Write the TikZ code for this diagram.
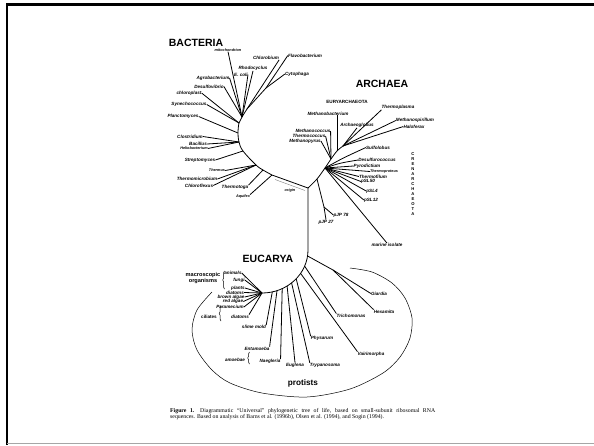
\documentclass[tikz,border=0pt]{standalone}
\usepackage{fontspec}
\setmainfont{Liberation Sans}
\newfontfamily\capfont{Liberation Serif}
\usetikzlibrary{decorations.pathreplacing}
\begin{document}
\begin{tikzpicture}[x=1pt,y=-1pt,
  br/.style={line width=0.8pt},
  lab/.style={font=\fontsize{4.6}{5}\selectfont\bfseries\itshape, inner sep=0pt},
  slab/.style={font=\fontsize{3.8}{4.5}\selectfont\bfseries\itshape, inner sep=0pt},
  plab/.style={font=\fontsize{4.6}{5}\selectfont\bfseries, inner sep=0pt},
  dom/.style={font=\fontsize{10.5}{12}\selectfont\bfseries, inner sep=0pt},
  capn/.style={font=\fontsize{5.8}{6.5}\selectfont\capfont, inner sep=0pt},
  brc/.style={decorate, decoration={brace, amplitude=1.8pt}, line width=0.5pt}]
\useasboundingbox (0,0) rectangle (594,445);
% frame
\draw[line width=2.3pt] (7.1,445) -- (7.1,4.6) -- (594,4.6);
\draw[gray!70, line width=1pt] (7,443) -- (594,443);

% ---------------- BACTERIA ----------------
\node[dom] (bact) at (196,43) {BACTERIA};
\node[slab] (mito) at (228,50) {mitochondrion};
\node[lab] (chlorob) at (266,58) {Chlorobium};
\node[lab] (flavo) at (305,55.5) {Flavobacterium};
\node[lab] (cyto) at (297,74) {Cytophaga};
\node[lab] (rhodo) at (253,68.5) {Rhodocyclus};
\node[lab] (ecoli) at (241,74.5) {E. coli};
\node[lab] (agro) at (213,78) {Agrobacterium};
\node[lab] (desul) at (209,86.5) {Desulfovibrio};
\node[lab] (chlp) at (189,93) {chloroplast};
\node[lab] (syn) at (189,104.5) {Synechococcus};
\node[lab] (plan) at (183,116.5) {Planctomyces};
\node[lab] (clos) at (190,136.5) {Clostridium};
\node[lab] (bac) at (198,144) {Bacillus};
\node[slab] (helio) at (194,148.5) {Heliobacterium};
\node[lab] (strep) at (200,160) {Streptomyces};
\node[slab] (thermus) at (217,170.5) {Thermus};
\node[lab] (tmic) at (197,179) {Thermomicrobium};
\node[lab] (cflex) at (199,185.5) {Chloroflexus};
\node[lab] (ttoga) at (235,187.5) {Thermotoga};
\node[slab] (aquif) at (243,196.5) {Aquifex};
\node[slab] (orig) at (290,191) {origin};

\coordinate (bj2) at (247,109);
\coordinate (bj1) at (242,117);
\coordinate (bcs) at (239,123);
\coordinate (bpl) at (238,133);
\coordinate (bcl) at (239,142);
\coordinate (bst) at (243,151);
\coordinate (bth) at (256,165);
\coordinate (btg) at (263,170);
\coordinate (baq) at (272,175);
\coordinate (R) at (308,188);
\coordinate (fc) at (266,88);

\draw[br] plot[smooth, tension=0.6] coordinates {(247,109) (242,117) (239,123) (238,133) (239,142) (243,151) (256,165) (263,170) (272,175)} -- (R);
\draw[br] (bj1) -- (mito.south);
\draw[br] (bj1) -- (agro.east);
\draw[br] (bj1) -- (desul.east);
\draw[br] (bj1) -- (rhodo.south);
\draw[br] (bj1) -- (ecoli.east);
\draw[br] (bj2) -- (chlorob.south east);
\draw[br] (bj2) -- (fc) -- (flavo.west);
\draw[br] (fc) -- (cyto.west);
\draw[br] (bcs) -- (chlp.east);
\draw[br] (bcs) -- (syn.east);
\draw[br] (bpl) -- (plan.east);
\draw[br] (bcl) -- (clos.east);
\draw[br] (bcl) -- (bac.east);
\draw[br] (bcl) -- (helio.east);
\draw[br] (bst) -- (strep.east);
\draw[br] (bth) -- (thermus.east);
\draw[br] (bth) -- (tmic.east);
\draw[br] (bth) -- (cflex.east);
\draw[br] (btg) -- (ttoga.north east);
\draw[br] (baq) -- (aquif.north east);
\draw[gray, line width=0.4pt] (275,179.5) -- (305,190.5);

% ---------------- ARCHAEA ----------------
\node[dom] (arch) at (382,84) {ARCHAEA};
\node[plab] (eury) at (347,101.5) {EURYARCHAEOTA};
\node[lab] (thp) at (398,107.5) {Thermoplasma};
\node[lab] (mbac) at (328,113.5) {Methanobacterium};
\node[lab] (msp) at (415,120.5) {Methanospirillum};
\node[lab] (hfx) at (414,126.5) {Haloferax};
\node[lab] (agl) at (357,125.5) {Archaeoglobus};
\node[lab] (mcc) at (313,131) {Methanococcus};
\node[lab] (tcc) at (309,136) {Thermococcus};
\node[lab] (mpy) at (305,141) {Methanopyrus};
\node[lab] (sul) at (378,147.5) {Sulfolobus};
\node[lab] (dsc) at (377,160) {Desulfurococcus};
\node[lab] (pyr) at (367,166) {Pyrodictium};
\node[slab] (tpr) at (384,171.5) {Thermoproteus};
\node[lab] (tfl) at (373,176.5) {Thermofilum};
\node[lab] (psl50) at (368,181.5) {pSL50};
\node[lab] (psl4) at (372,191) {pSL4};
\node[lab] (psl12) at (371,200) {pSL12};
\node[lab] (mar) at (387,245) {marine isolate};
\node[lab] (pjp78) at (341,215) {pJP 78};
\node[lab] (pjp27) at (326,222) {pJP 27};
\node[font=\fontsize{4.2}{5}\selectfont\bfseries, inner sep=0pt, align=center] (cren) at (413,184.5)
  {C\\R\\E\\N\\A\\R\\C\\H\\A\\E\\O\\T\\A};

\coordinate (ak) at (317,179);
\coordinate (ac) at (325,168);
\coordinate (am) at (331,159);
\coordinate (amb) at (337,151);
\coordinate (ej) at (343,146);
\coordinate (k1) at (324,207);

\draw[br] plot[smooth] coordinates {(308,188) (317,179) (325,168) (331,159) (337,151) (343,146)};
\draw[br] (ej) -- (thp.south west);
\draw[br] (ej) -- (msp.west);
\draw[br] (ej) -- (hfx.west);
\draw[br] (ej) -- (agl.south);
\draw[br] (amb) -- (amb |- mbac.south);
\draw[br] (am) -- (mcc.east);
\draw[br] (am) -- (tcc.east);
\draw[br] (am) -- (mpy.east);
\draw[br] (ac) .. controls (343,158) .. (sul.west);
\draw[br] (ac) .. controls (340,163) .. (dsc.west);
\draw[br] (ac) -- (pyr.west);
\draw[br] (ac) -- (tpr.west);
\draw[br] (ac) -- (tfl.west);
\draw[br] (ac) -- (psl50.west);
\draw[br] (ac) -- (psl4.west);
\draw[br] (ac) -- (psl12.west);
\draw[br] (ac) -- (mar.north);
\draw[br] (ak) -- (k1) -- (pjp27.north);
\draw[br] (k1) -- (pjp78.west);

% ---------------- EUCARYA ----------------
\node[dom] (euc) at (268,259) {EUCARYA};
\coordinate (e0) at (308,250);
\coordinate (crown) at (262,293);
\draw[br] (R) -- (e0) .. controls (308,273.7) and (287.4,293) .. (crown);

\coordinate (gh0) at (307.6,256);
\coordinate (gh) at (333,270);
\coordinate (tri0) at (304.6,266.1);
\coordinate (vai0) at (300.6,273.4);
\coordinate (phy0) at (296.2,278.8);
\coordinate (try0) at (291.6,282.9);
\coordinate (eug0) at (287.1,286.1);
\coordinate (nae0) at (282.2,288.6);
\coordinate (ent0) at (277,290.7);
\coordinate (sli0) at (272.3,291.9);

\node[lab] (anim) at (233,273) {animals};
\node[lab] (fung) at (239,280) {fungi};
\node[lab] (plnt) at (238,288) {plants};
\node[lab] (diat) at (235,292.5) {diatoms};
\node[lab] (brown) at (231,297) {brown algae};
\node[lab] (red) at (233,301.5) {red algae};
\node[lab] (para) at (230,307) {Paramecium};
\node[lab] (diat2) at (240,316.5) {diatoms};
\node[font=\fontsize{5.6}{6.3}\selectfont\bfseries, inner sep=0pt, align=center] (macro) at (203,278) {macroscopic\\organisms};
\node[font=\fontsize{4.6}{5}\selectfont\bfseries, inner sep=0pt] (cil) at (209,317) {ciliates};
\node[lab] (slime) at (254,327) {slime mold};
\node[lab] (ent) at (257,348.5) {Entamoeba};
\node[lab] (amoe) at (235,360) {amoebae};
\node[lab] (nae) at (270,361.5) {Naegleria};
\node[lab] (eug) at (295,365) {Euglena};
\node[lab] (try) at (325,365) {Trypanosoma};
\node[lab] (phy) at (322,338.5) {Physarum};
\node[lab] (vai) at (371,354) {Vairimorpha};
\node[lab] (tri) at (351,315.5) {Trichomonas};
\node[lab] (gia) at (379,293.5) {Giardia};
\node[lab] (hex) at (384,311.5) {Hexamita};
\node[font=\fontsize{8.2}{9}\selectfont\bfseries, inner sep=0pt] (prot) at (303,383) {protists};

\draw[br] (crown) -- (anim.east);
\draw[br] (crown) -- (fung.east);
\draw[br] (crown) -- (plnt.east);
\draw[br] (crown) -- (diat.east);
\draw[br] (crown) -- (brown.east);
\draw[br] (crown) -- (red.east);
\draw[br] (crown) -- (para.east);
\draw[br] (crown) -- (diat2.north east);
\draw[br] (sli0) -- (slime.north east);
\draw[br] (ent0) -- (ent.north east);
\draw[br] (nae0) -- (nae.north east);
\draw[br] (eug0) -- (eug.north);
\draw[br] (try0) -- (try.north west);
\draw[br] (phy0) -- (phy.north west);
\draw[br] (vai0) -- (vai.north west);
\draw[br] (tri0) -- (tri.north west);
\draw[br] (gh0) -- (gh) -- (gia.west);
\draw[br] (gh) -- (hex.north west);

\draw[brc] (224.5,289) -- (224.5,271);
\draw[brc] (221,321) -- (221,306);
\draw[brc] (249.5,364) -- (249.5,352);

% protists oval
\draw[line width=0.5pt] plot[smooth] coordinates {(212,292) (197,310) (192,330) (197,350) (212,370) (230,383) (262,393) (307,397) (350,389) (383,373) (400,357) (410,338) (412,318) (405,298) (392,283) (372,272) (350,268)};

% caption
\node[capn, anchor=base west] (cap1) at (170,412.5) {\makebox[265pt][s]{\textbf{Figure 1.}\quad Diagrammatic “Universal” phylogenetic tree of life, based on small-subunit ribosomal RNA}};
\node[capn, anchor=base west] (cap2) at (170,418.8) {sequences. Based on analysis of Barns et al. (1996b), Olsen et al. (1994), and Sogin (1994).};
\end{tikzpicture}
\end{document}
